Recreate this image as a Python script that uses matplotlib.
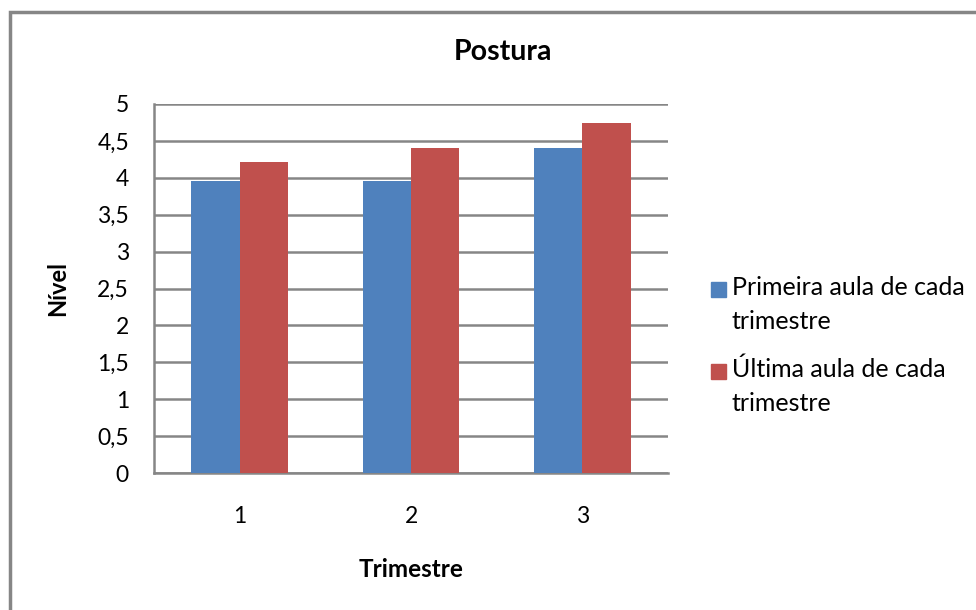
import numpy as np
import matplotlib.pyplot as plt
from matplotlib.patches import Rectangle

plt.rcParams['font.family'] = ['Lato', 'DejaVu Sans']

trimestres = ['1', '2', '3']
primeira = [3.95, 3.95, 4.41]
ultima = [4.21, 4.41, 4.74]
series_names = ['Primeira aula de cada\ntrimestre', 'Última aula de cada\ntrimestre']
series_colors = ['#4F81BD', '#C0504D']
yticks = np.arange(0, 5.01, 0.5)

grey = '#868686'

fig = plt.figure(figsize=(9.76, 6.10), dpi=100)
ax = fig.add_axes([154 / 976, 137 / 610, 514 / 976, 369 / 610])

x = np.arange(len(trimestres))
w = 0.283
ax.bar(x - w / 2, primeira, w, color=series_colors[0], zorder=3)
ax.bar(x + w / 2, ultima, w, color=series_colors[1], zorder=3)

ax.set_xlim(-0.5, 2.5)
ax.set_ylim(0, 5)
ax.set_yticks(yticks)
ax.set_yticklabels([('%g' % v).replace('.', ',') for v in yticks])
ax.set_xticks(x)
ax.set_xticklabels(trimestres)
ax.tick_params(length=0, labelsize=16.5, colors='black')
ax.tick_params(axis='y', pad=18)
ax.tick_params(axis='x', pad=24)
ax.yaxis.grid(True, color=grey, linewidth=1.8, zorder=0)

for s in ['top', 'right']:
    ax.spines[s].set_visible(False)
for s in ['left', 'bottom']:
    ax.spines[s].set_color(grey)
    ax.spines[s].set_linewidth(1.8)

ax.set_xlabel('Trimestre', fontsize=17.5, fontweight='bold', labelpad=22)
ax.set_ylabel('Nível', fontsize=17, fontweight='bold', labelpad=20)
fig.text(503 / 976, 1 - 52 / 610, 'Postura', fontsize=20.5, fontweight='bold',
         ha='center', va='center')

# legend drawn by hand so each square sits beside the first text line
for i, (name, col) in enumerate(zip(series_names, series_colors)):
    top = 282 + i * 82
    fig.patches.append(Rectangle((711 / 976, 1 - (top + 15) / 610), 15 / 976, 15 / 610,
                                 transform=fig.transFigure, color=col))
    fig.text(732 / 976, 1 - (top + 47) / 610, name, fontsize=18, ha='left',
             va='baseline', linespacing=1.6)

# chart border
fig.patches.append(Rectangle((9.5 / 976, -0.01), 1.0, 1 - 12 / 610 + 0.01,
                             transform=fig.transFigure, fill=False,
                             edgecolor=grey, linewidth=2.5))

fig.savefig('out.png', dpi=100)
